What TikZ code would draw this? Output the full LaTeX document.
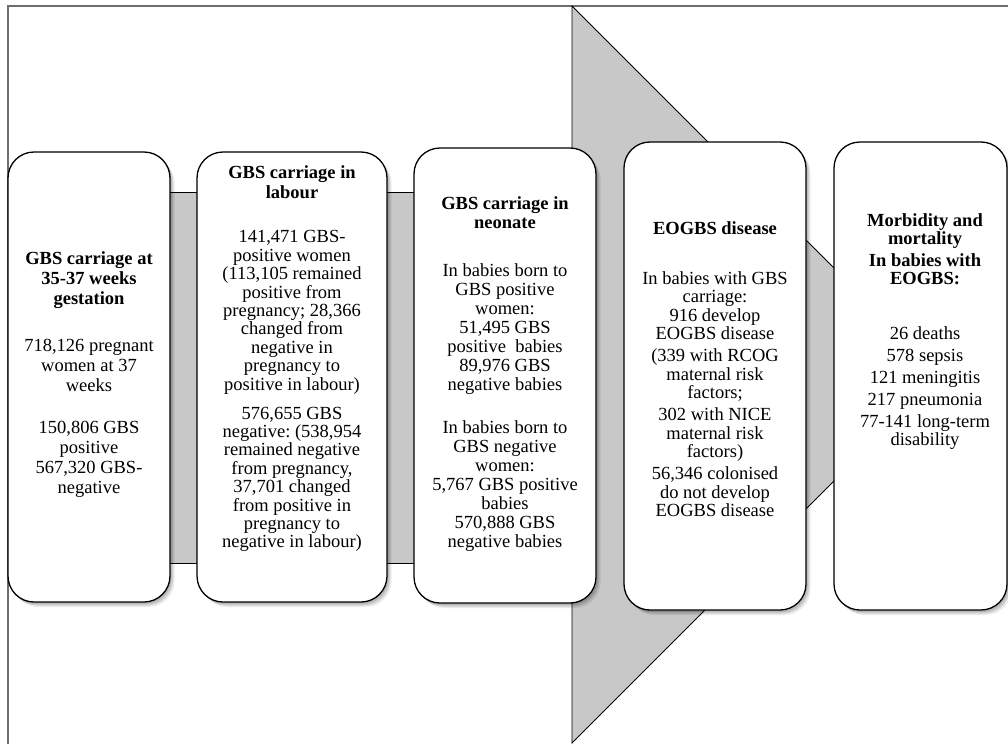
\documentclass[tikz,border=0pt]{standalone}
\usepackage{fontspec}
\setmainfont{Liberation Serif}
\frenchspacing
\usetikzlibrary{shadows}
\definecolor{bandgray}{RGB}{200,200,200}
\definecolor{framegray}{RGB}{110,110,110}
\begin{document}
\begin{tikzpicture}[x=1pt,y=-1pt,
  box/.style={draw=black, line width=1.3pt, fill=white, rounded corners=26pt, inner sep=0pt,
    drop shadow={shadow xshift=1.5pt, shadow yshift=-2pt, fill=black, opacity=0.12},
    drop shadow={shadow xshift=3pt, shadow yshift=-3.5pt, fill=black, opacity=0.12},
    drop shadow={shadow xshift=4.5pt, shadow yshift=-5pt, fill=black, opacity=0.08}},
  txt/.style={align=center, inner sep=0pt, anchor=north, font=\fontsize{18.5}{18.4}\selectfont},
  band/.style={fill=bandgray, draw=black, line width=0.9pt},
  frame/.style={draw=framegray, line width=1.4pt}]
\useasboundingbox (0,0) rectangle (1008,744);
% frame
\path[frame] (1008,6) -- (8,6) -- (8,744);
% background arrows
\path[band] (572,6) -- (940.5,374.5) -- (572,743) -- cycle;
\path[band] (150,192) rectangle (430,563);
% boxes
\node[box, minimum width=162pt, minimum height=450pt] (b1) at (89,377) {};
\node[box, minimum width=190pt, minimum height=450pt] (b2) at (292,377) {};
\node[box, minimum width=182pt, minimum height=455pt] (b3) at (505,375.5) {};
\node[box, minimum width=182pt, minimum height=468pt] (b4) at (715,376) {};
\node[box, minimum width=173pt, minimum height=468pt] (b5) at (920.5,376) {};
% texts
\node[txt, font=\fontsize{18.5}{20}\selectfont] (t1) at (89,251)
  {\textbf{GBS carriage at}\\\textbf{35-37 weeks}\\\textbf{gestation}\\[27pt]
   718,126 pregnant\\women at 37\\weeks\\[22pt]150,806 GBS\\positive\\567,320 GBS-\\negative};
\node[txt] (t2) at (292,165)
  {\textbf{GBS carriage in}\\[1.6pt]\textbf{labour}\\[26.5pt]
   141,471 GBS-\\positive women\\(113,105 remained\\positive from\\pregnancy; 28,366\\changed from\\negative in\\pregnancy to\\positive in labour)\\[10.6pt]
   576,655 GBS\\negative: (538,954\\remained negative\\from pregnancy,\\37,701 changed\\from positive in\\pregnancy to\\negative in labour)};
\node[txt, font=\fontsize{18.5}{19}\selectfont] (t3) at (505,196)
  {\textbf{GBS carriage in}\\\textbf{neonate}\\[29pt]
   In babies born to\\GBS positive\\women:\\51,495 GBS\\positive~ babies\\89,976 GBS\\negative babies\\[24pt]
   In babies born to\\GBS negative\\women:\\5,767 GBS positive\\babies\\570,888 GBS\\negative babies};
\node[txt, font=\fontsize{18.5}{18.5}\selectfont] (t4) at (715,221)
  {\textbf{EOGBS disease}\\[31.5pt]
   In babies with GBS\\carriage:\\916 develop\\EOGBS disease\\[3.5pt]
   (339 with RCOG\\maternal risk\\factors;\\[3.5pt]
   302 with NICE\\maternal risk\\factors)\\[3.5pt]
   56,346 colonised\\do not develop\\EOGBS disease};
\node[txt, font=\fontsize{18.5}{18.3}\selectfont] (t5) at (925,213)
  {\textbf{Morbidity and}\\\textbf{mortality}\\[3.7pt]
   \textbf{In babies with}\\\textbf{EOGBS:}\\[36.7pt]
   26 deaths\\[3.7pt]578 sepsis\\[3.7pt]121 meningitis\\[3.7pt]217 pneumonia\\[3.7pt]77-141 long-term\\disability};
\end{tikzpicture}
\end{document}
